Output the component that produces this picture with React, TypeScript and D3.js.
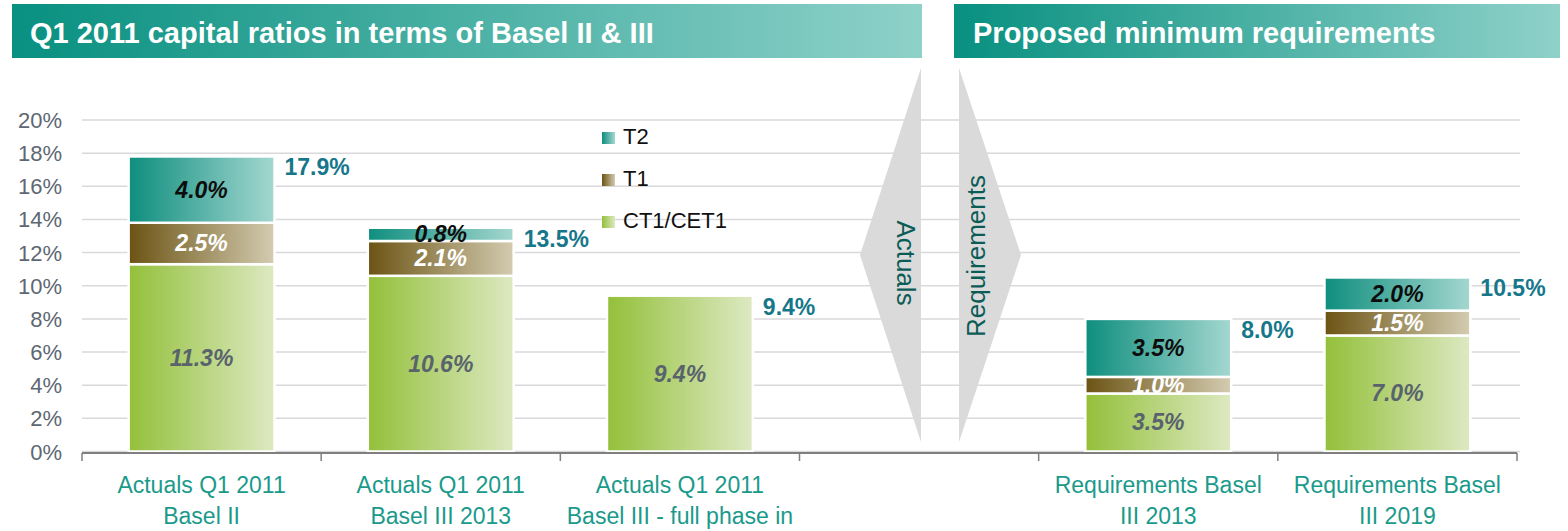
import * as d3 from 'd3'

// categories (two label lines each); the 4th slot is the gap that holds the arrows
const categories = [
  ['Actuals Q1 2011', 'Basel II'],
  ['Actuals Q1 2011', 'Basel III 2013'],
  ['Actuals Q1 2011', 'Basel III - full phase in'],
  ['', ''],
  ['Requirements Basel', 'III 2013'],
  ['Requirements Basel', 'III 2019'],
]
const cet1 = [11.3, 10.6, 9.4, 0, 3.5, 7.0]
const tier1 = [2.5, 2.1, 0, 0, 1.0, 1.5]
const tier2 = [4.0, 0.8, 0, 0, 3.5, 2.0]
const totals = [17.9, 13.5, 9.4, null, 8.0, 10.5]
const yTicks = [0, 2, 4, 6, 8, 10, 12, 14, 16, 18, 20]
const seriesKeys = ['cet1', 'tier1', 'tier2']
const legendItems = [
  { key: 'tier2', label: 'T2' },
  { key: 'tier1', label: 'T1' },
  { key: 'cet1', label: 'CT1/CET1' },
]
const leftTitle = 'Q1 2011 capital ratios in terms of Basel II & III'
const rightTitle = 'Proposed minimum requirements'

const W = 1568
const H = 531
const FONT = '"Liberation Sans", Arial, Helvetica, sans-serif'

const gradStops: Record<string, [string, string]> = {
  cet1: ['#93c03a', '#dde9c2'],
  tier1: ['#6b5313', '#d4ccb1'],
  tier2: ['#0e8e7e', '#a4d7d0'],
}
const labelColor: Record<string, string> = {
  cet1: '#59636c',
  tier1: '#ffffff',
  tier2: '#0d0d0d',
}

export default function App() {
  const x = d3
    .scaleBand<number>()
    .domain(d3.range(categories.length))
    .range([82, 1517])
  const xb = x.copy().paddingInner(0.39).paddingOuter(0.195)
  const y = d3.scaleLinear().domain([0, 20]).range([451.5, 120])

  const rows = categories.map((_, i) => ({
    i,
    cet1: cet1[i],
    tier1: tier1[i],
    tier2: tier2[i],
  }))
  const stacked = d3.stack<any>().keys(seriesKeys)(rows)

  const boundaries = [...x.domain().map((d) => x(d)!), x.range()[1]]
  const bw = xb.bandwidth()

  return (
    <svg
      width={W}
      height={H}
      style={{ position: 'absolute', left: 0, top: 0, background: '#fff' }}
      fontFamily={FONT}
    >
      <defs>
        {Object.entries(gradStops).map(([k, [a, b]]) => (
          <linearGradient key={k} id={`g-${k}`} x1="0" x2="1" y1="0" y2="0">
            <stop offset="0" stopColor={a} />
            <stop offset="1" stopColor={b} />
          </linearGradient>
        ))}
        <linearGradient id="g-head" x1="0" x2="1" y1="0" y2="0">
          <stop offset="0" stopColor="#089080" />
          <stop offset="1" stopColor="#8ed1c9" />
        </linearGradient>
      </defs>

      {/* headers */}
      <rect x={12} y={4} width={910} height={54} fill="url(#g-head)" />
      <text x={30} y={43} fill="#fff" fontSize={29} fontWeight="bold">
        {leftTitle}
      </text>
      <rect x={954} y={4} width={606} height={54} fill="url(#g-head)" />
      <text x={973} y={43} fill="#fff" fontSize={29} fontWeight="bold">
        {rightTitle}
      </text>

      {/* gridlines + y ticks */}
      {yTicks.map((t) => (
        <g key={t}>
          <line
            x1={82}
            x2={1520}
            y1={y(t)}
            y2={y(t)}
            stroke="#d9d9dc"
            strokeWidth={1.5}
          />
          <text
            x={62}
            y={y(t) + 8}
            textAnchor="end"
            fontSize={22}
            fill="#5d6872"
          >
            {t}%
          </text>
        </g>
      ))}

      {/* arrows between actuals and requirements */}
      <polygon points="921,68 860,255 921,442" fill="#dadada" />
      <polygon points="959,68 1021,255 959,442" fill="#dadada" />
      <text
        transform="translate(906,263) rotate(90)"
        textAnchor="middle"
        dominantBaseline="central"
        fontSize={26}
        fill="#0b5c57"
      >
        Actuals
      </text>
      <text
        transform="translate(976,256) rotate(-90)"
        textAnchor="middle"
        dominantBaseline="central"
        fontSize={26}
        fill="#0b5c57"
      >
        Requirements
      </text>

      {/* stacked bars */}
      {stacked.map((layer) => (
        <g key={layer.key}>
          {layer.map((d, i) => {
            const v = d[1] - d[0]
            if (v <= 0) return null
            const x0 = xb(i)!
            return (
              <g key={i}>
                <rect
                  x={x0}
                  y={y(d[1])}
                  width={bw}
                  height={y(d[0]) - y(d[1])}
                  fill={`url(#g-${layer.key})`}
                  stroke="#fff"
                  strokeWidth={2.5}
                />
                <text
                  x={x0 + bw / 2}
                  y={y((d[0] + d[1]) / 2) + 8}
                  textAnchor="middle"
                  fontSize={23}
                  fontWeight="bold"
                  fontStyle="italic"
                  fill={labelColor[layer.key]}
                >
                  {v.toFixed(1)}%
                </text>
              </g>
            )
          })}
        </g>
      ))}

      {/* totals */}
      {totals.map((t, i) => {
        if (t == null) return null
        const top = stacked[stacked.length - 1][i][1]
        return (
          <text
            key={i}
            x={xb(i)! + bw + 10}
            y={y(top) + 19}
            fontSize={23}
            fontWeight="bold"
            fill="#16778b"
          >
            {t.toFixed(1)}%
          </text>
        )
      })}

      {/* legend */}
      {legendItems.map((it, k) => {
        const by = 144 + k * 42
        return (
          <g key={it.key}>
            <rect
              x={602}
              y={by - 12}
              width={13}
              height={12}
              fill={`url(#g-${it.key})`}
            />
            <text x={623} y={by} fontSize={22} fill="#111">
              {it.label}
            </text>
          </g>
        )
      })}

      {/* x axis */}
      <line
        x1={82}
        x2={1517}
        y1={453}
        y2={453}
        stroke="#7f7f7f"
        strokeWidth={2}
      />
      {boundaries.map((bx, k) => (
        <line
          key={k}
          x1={bx}
          x2={bx}
          y1={453}
          y2={461}
          stroke="#7f7f7f"
          strokeWidth={1.5}
        />
      ))}
      {categories.map((c, i) => (
        <g key={i}>
          {c.map((line, j) => (
            <text
              key={j}
              x={x(i)! + x.bandwidth() / 2}
              y={493 + j * 31}
              textAnchor="middle"
              fontSize={23}
              fill="#1a9a8b"
            >
              {line}
            </text>
          ))}
        </g>
      ))}
    </svg>
  )
}
